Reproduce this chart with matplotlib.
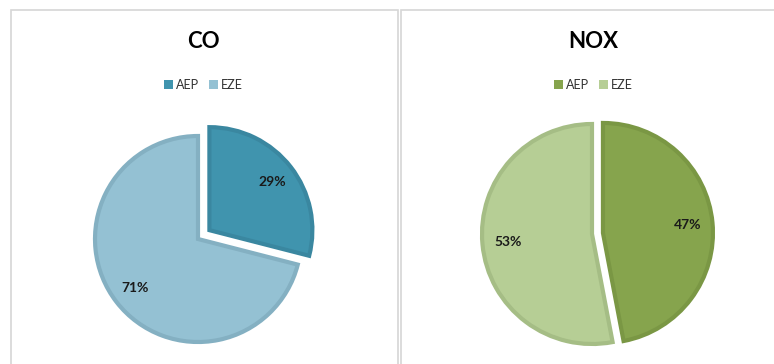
import matplotlib.pyplot as plt
from matplotlib.patches import Patch, Rectangle

plt.rcParams['font.family'] = ['Lato', 'DejaVu Sans']

# data
labels = ['AEP', 'EZE']
co_values = [29, 71]
nox_values = [47, 53]
titles = ['CO', 'NOX']

W, H = 774, 364
fig = plt.figure(figsize=(W / 100, H / 100), dpi=100)


def px_axes(cx, cy, r):
    # square axes centred on pixel (cx, cy), limits in units of radius r
    half = 1.6 * r
    ax = fig.add_axes([(cx - half) / W, 1 - (cy + half) / H, 2 * half / W, 2 * half / H])
    return ax


def draw_pie(ax, values, fills, edges, explode):
    wedges, _, pcts = ax.pie(values, startangle=90, counterclock=False,
                             colors=fills, explode=explode,
                             autopct='%.0f%%', pctdistance=0.77,
                             wedgeprops=dict(linewidth=3))
    for w, e in zip(wedges, edges):
        w.set_edgecolor(e)
    for t in pcts:
        t.set_fontsize(10)
        t.set_fontweight('bold')
        t.set_color('#1a1a1a')
    ax.set_xlim(-1.6, 1.6)
    ax.set_ylim(-1.6, 1.6)
    return wedges


co_fill = ['#4094ae', '#94c1d3']
co_edge = ['#3a87a0', '#84b0c2']
nox_fill = ['#86a44d', '#b6ce95']
nox_edge = ['#7a9744', '#a5bd85']

ax1 = px_axes(198, 239, 103)
draw_pie(ax1, co_values, co_fill, co_edge, [0.14, 0])
ax2 = px_axes(592, 234, 110)
draw_pie(ax2, nox_values, nox_fill, nox_edge, [0.1, 0])

# panel frames
fig.patches.append(Rectangle((11 / W, -0.1), 387 / W, 1.1 - 10 / H, transform=fig.transFigure,
                             fill=False, edgecolor='#d6d6d6', linewidth=1.2))
fig.patches.append(Rectangle((401 / W, -0.1), 400 / W, 1.1 - 10 / H, transform=fig.transFigure,
                             fill=False, edgecolor='#d6d6d6', linewidth=1.2))

# titles and legends
for x, title, fills in [(203, titles[0], co_fill), (593, titles[1], nox_fill)]:
    fig.text(x / W, 1 - 42 / H, title, ha='center', va='center',
             fontsize=16, fontweight='bold', color='#000000')
    handles = [Patch(facecolor=c, edgecolor='none') for c in fills]
    fig.legend(handles, labels, loc='center', bbox_to_anchor=(x / W, 1 - 85 / H),
               ncol=2, frameon=False, fontsize=9, handlelength=0.75, handleheight=0.75,
               handletextpad=0.2, columnspacing=0.8, labelcolor='#333333')

fig.savefig('out.png', dpi=100)
